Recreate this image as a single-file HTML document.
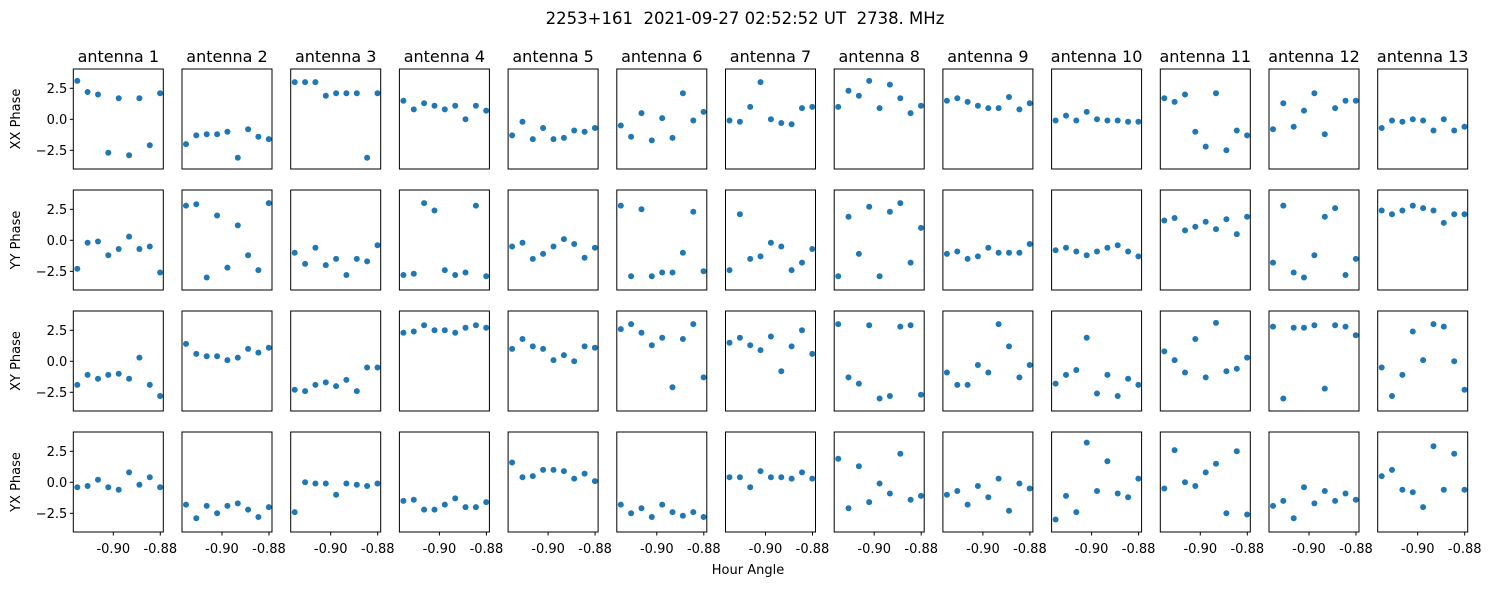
<!DOCTYPE html>
<html><head><meta charset="utf-8"><style>
html,body{margin:0;padding:0;background:#fff;}
svg text{font-family:"DejaVu Sans","Liberation Sans",sans-serif;fill:#000;}
</style></head><body>
<svg id="s" width="1491" height="586" xmlns="http://www.w3.org/2000/svg"></svg>
<script>
const D=[
[[3.1,2.2,2.0,-2.7,1.7,-2.9,1.7,-2.1,2.1],[-2.0,-1.3,-1.2,-1.2,-1.0,-3.1,-0.8,-1.4,-1.6],[3.0,3.0,3.0,1.9,2.1,2.1,2.1,-3.1,2.1],[1.5,0.8,1.3,1.1,0.8,1.1,0.0,1.1,0.7],[-1.3,-0.2,-1.6,-0.7,-1.6,-1.5,-0.9,-1.0,-0.7],[-0.5,-1.4,0.5,-1.7,0.1,-1.5,2.1,-0.1,0.6],[-0.1,-0.2,1.0,3.0,0.0,-0.3,-0.4,0.9,1.0],[1.0,2.3,1.9,3.1,0.9,2.8,1.7,0.5,1.1],[1.5,1.7,1.4,1.1,0.9,0.9,1.8,0.8,1.3],[-0.1,0.3,-0.1,0.6,0.0,-0.1,-0.1,-0.2,-0.2],[1.7,1.4,2.0,-1.0,-2.2,2.1,-2.5,-0.9,-1.3],[-0.8,1.3,-0.6,0.7,2.1,-1.2,0.9,1.5,1.5],[-0.7,-0.1,-0.2,0.0,-0.1,-0.9,0.0,-0.9,-0.6]],
[[-2.3,-0.2,-0.1,-1.2,-0.7,0.3,-0.7,-0.5,-2.6],[2.8,2.9,-3.0,2.0,-2.2,1.2,-1.2,-2.4,3.0],[-1.0,-1.9,-0.6,-2.0,-1.5,-2.8,-1.5,-1.7,-0.4],[-2.8,-2.7,3.0,2.4,-2.4,-2.8,-2.6,2.8,-2.9],[-0.5,-0.2,-1.5,-1.1,-0.5,0.1,-0.3,-1.4,-0.6],[2.8,-2.9,2.5,-2.9,-2.6,-2.6,-1.0,2.3,-2.5],[-2.4,2.1,-1.5,-1.3,-0.2,-0.5,-2.4,-1.8,-0.7],[-2.9,1.9,-1.1,2.7,-2.9,2.3,3.0,-1.8,1.0],[-1.1,-0.9,-1.5,-1.3,-0.6,-1.0,-1.0,-1.0,-0.3],[-0.8,-0.6,-0.9,-1.2,-0.9,-0.6,-0.4,-0.9,-1.3],[1.6,1.8,0.8,1.1,1.5,0.9,1.7,0.5,1.9],[-1.8,2.8,-2.6,-3.0,-1.2,1.9,2.6,-2.8,-1.5],[2.4,2.1,2.4,2.8,2.6,2.4,1.4,2.1,2.1]],
[[-1.9,-1.1,-1.4,-1.1,-1.0,-1.4,0.3,-1.9,-2.8],[1.4,0.6,0.4,0.4,0.1,0.3,1.0,0.7,1.1],[-2.3,-2.4,-1.9,-1.7,-2.0,-1.5,-2.4,-0.5,-0.5],[2.3,2.4,2.9,2.5,2.5,2.3,2.7,2.9,2.7],[1.0,1.8,1.2,1.0,0.1,0.5,0.0,1.2,1.1],[2.6,3.0,2.3,1.3,1.9,-2.1,1.8,3.0,-1.3],[1.5,1.9,1.3,0.9,2.0,-0.8,1.2,2.5,0.6],[3.0,-1.3,-1.8,2.9,-3.0,-2.8,2.8,2.9,-2.7],[-0.9,-1.9,-1.9,-0.3,-0.9,3.0,1.2,-1.3,-0.3],[-1.8,-1.1,-0.7,1.9,-2.6,-1.1,-2.8,-1.4,-1.9],[0.8,0.1,-0.9,1.8,-1.3,3.1,-0.8,-0.6,0.3],[2.8,-3.0,2.7,2.7,2.9,-2.2,2.9,2.8,2.1],[-0.5,-2.8,-1.1,2.4,0.1,3.0,2.8,0.0,-2.3]],
[[-0.4,-0.3,0.2,-0.4,-0.6,0.8,-0.2,0.4,-0.4],[-1.8,-2.9,-1.9,-2.5,-1.9,-1.7,-2.2,-2.8,-2.0],[-2.4,0.0,-0.1,-0.1,-1.0,-0.1,-0.2,-0.3,-0.1],[-1.5,-1.4,-2.2,-2.2,-1.8,-1.3,-2.0,-2.0,-1.6],[1.6,0.4,0.5,1.0,1.0,0.9,0.3,0.7,0.1],[-1.8,-2.5,-2.1,-2.8,-1.8,-2.4,-2.7,-2.4,-2.8],[0.4,0.4,-0.4,0.9,0.4,0.4,0.3,0.8,0.3],[1.9,-2.1,1.3,-1.6,-0.1,-0.9,2.3,-1.4,-1.1],[-1.0,-0.7,-1.8,-0.3,-1.2,0.3,-2.3,-0.1,-0.5],[-3.0,-1.1,-2.4,3.2,-0.7,1.7,-0.9,-1.2,0.3],[-0.5,2.6,0.0,-0.3,0.8,1.5,-2.5,2.5,-2.6],[-1.9,-1.5,-2.9,-0.4,-1.7,-0.7,-1.5,-0.9,-1.4],[0.5,1.0,-0.6,-0.8,-2.0,2.9,-0.6,2.3,-0.6]]];
const rows=["XX Phase","YY Phase","XY Phase","YX Phase"];
let h='<text x="745" y="24" text-anchor="middle" font-size="16.5" xml:space="preserve">2253+161  2021-09-27 02:52:52 UT  2738. MHz</text>';
for(let c=0;c<13;c++){
 const L=73.3+108.7*c;
 h+=`<text x="${L+45}" y="62" text-anchor="middle" font-size="16">antenna ${c+1}</text>`;
 for(let r=0;r<4;r++){
  const T=69+121*r;
  for(let k=0;k<9;k++){
   const x=L+4+10.35*k, y=T+50.3-D[r][c][k]*12.4;
   h+=`<circle cx="${x.toFixed(1)}" cy="${y.toFixed(1)}" r="3" fill="#1f77b4"/>`;
  }
  h+=`<rect x="${L}" y="${T}" width="90" height="100" fill="none" stroke="#000" stroke-width="1"/>`;
  if(c==0){
   [[2.5,"2.5"],[0,"0.0"],[-2.5,"\u22122.5"]].forEach(([v,s])=>{const y=T+50.3-v*12.4;
    h+=`<line x1="${L-3.5}" x2="${L}" y1="${y}" y2="${y}" stroke="#000"/><text x="${L-6}" y="${y+4.5}" text-anchor="end" font-size="13">${s}</text>`;});
   h+=`<text transform="translate(20,${T+50}) rotate(-90)" text-anchor="middle" font-size="13">${rows[r]}</text>`;
  }
  if(r==3){
   [[40,"-0.90"],[87,"-0.88"]].forEach(([o,s])=>{const x=L+o;
    h+=`<line x1="${x}" x2="${x}" y1="${T+100}" y2="${T+103.5}" stroke="#000"/><text x="${x}" y="${T+121}" text-anchor="middle" font-size="13">${s}</text>`;});
  }
 }
}
h+='<text x="748" y="574" text-anchor="middle" font-size="13">Hour Angle</text>';
document.getElementById('s').innerHTML=h;
</script>
</body></html>
